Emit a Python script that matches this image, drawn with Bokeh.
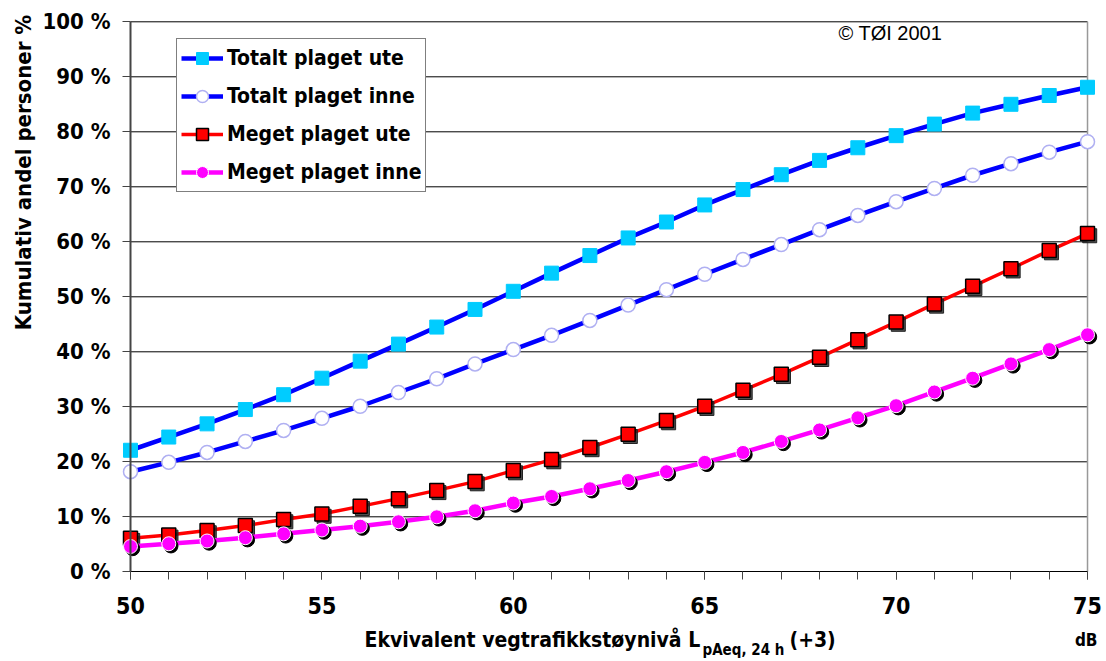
import math
from bokeh.plotting import figure
from bokeh.models import (Legend, LegendItem, FixedTicker, SingleIntervalTicker, Label, Range1d,
                          ColumnDataSource)
from bokeh.transform import dodge
from bokeh.embed import file_html
from bokeh.resources import INLINE

# ---- data ----
noise_db = list(range(50, 76))
totalt_ute = [22.1, 24.5, 26.9, 29.5, 32.2, 35.2, 38.3, 41.4, 44.5, 47.7, 51.0, 54.3, 57.5,
              60.7, 63.6, 66.7, 69.5, 72.2, 74.8, 77.1, 79.3, 81.4, 83.4, 85.0, 86.6, 88.1]
totalt_inne = [18.2, 19.9, 21.7, 23.7, 25.7, 27.9, 30.1, 32.6, 35.1, 37.8, 40.4, 43.0, 45.7,
               48.5, 51.3, 54.1, 56.8, 59.5, 62.2, 64.8, 67.3, 69.7, 72.1, 74.2, 76.3, 78.2]
meget_ute = [6.1, 6.7, 7.5, 8.4, 9.5, 10.5, 11.9, 13.3, 14.8, 16.4, 18.4, 20.4, 22.6,
             25.0, 27.5, 30.1, 33.0, 35.9, 39.0, 42.2, 45.4, 48.7, 51.9, 55.1, 58.4, 61.5]
meget_inne = [4.6, 5.1, 5.6, 6.2, 6.9, 7.6, 8.3, 9.1, 10.0, 11.1, 12.5, 13.7, 15.1,
              16.6, 18.2, 19.9, 21.7, 23.7, 25.8, 28.0, 30.2, 32.7, 35.2, 37.8, 40.4, 43.1]
series_names = ["Totalt plaget ute", "Totalt plaget inne", "Meget plaget ute", "Meget plaget inne"]
x_bounds = (50, 75)
y_bounds = (0, 100)
y_ticks = [0, 10, 20, 30, 40, 50, 60, 70, 80, 90, 100]
y_tick_labels = ["0 %", "10 %", "20 %", "30 %", "40 %", "50 %", "60 %", "70 %", "80 %", "90 %", "100 %"]
y_title = "Kumulativ andel personer %"
x_title_main = "Ekvivalent vegtrafikkstøynivå L"
x_title_sub = "pAeq, 24 h"
x_title_tail = "(+3)"
x_unit = "dB"
copyright_text = "© TØI 2001"

FONT = "DejaVu Sans Condensed, Liberation Sans, sans-serif"
W, H = 1106, 661

# the frame covers the whole canvas; axes are pinned at x=50 / y=0
p = figure(width=W, height=H, output_backend="svg", toolbar_location=None,
           x_range=Range1d(46.604, 75.496), y_range=Range1d(-16.309, 103.873),
           min_border=0, min_border_left=0, min_border_right=0,
           min_border_top=0, min_border_bottom=0)
p.background_fill_color = "white"
p.border_fill_color = "white"
p.outline_line_color = None
p.xgrid.visible = False
p.ygrid.visible = False

# x axis
p.xaxis.fixed_location = y_bounds[0]
p.xaxis.bounds = x_bounds
p.xaxis.ticker = SingleIntervalTicker(interval=5, num_minor_ticks=5)
p.xaxis.major_tick_in = 0
p.xaxis.major_tick_out = 8
p.xaxis.minor_tick_in = 0
p.xaxis.minor_tick_out = 8
p.xaxis.axis_line_color = "black"
p.xaxis.major_tick_line_color = "#444444"
p.xaxis.minor_tick_line_color = "#444444"
p.xaxis.major_label_text_font = FONT
p.xaxis.major_label_text_font_style = "bold"
p.xaxis.major_label_text_font_size = "23px"
p.xaxis.major_label_text_color = "black"
p.xaxis.major_label_standoff = 17

# y axis
p.yaxis.fixed_location = x_bounds[0]
p.yaxis.bounds = y_bounds
p.yaxis.ticker = FixedTicker(ticks=y_ticks)
p.yaxis.major_label_overrides = {t: l for t, l in zip(y_ticks, y_tick_labels)}
p.yaxis.major_tick_in = 0
p.yaxis.major_tick_out = 8
p.yaxis.minor_tick_line_color = None
p.yaxis.axis_line_color = "#444444"
p.yaxis.axis_line_width = 2
p.yaxis.major_tick_line_color = "#444444"
p.yaxis.major_label_text_font = FONT
p.yaxis.major_label_text_font_style = "bold"
p.yaxis.major_label_text_font_size = "22px"
p.yaxis.major_label_text_color = "black"
p.yaxis.major_label_standoff = 12

# horizontal grid lines limited to the plot area, grey right border
grid_src = ColumnDataSource(dict(y=y_ticks[1:]))
p.segment(x0=x_bounds[0], x1=x_bounds[1], y0="y", y1="y", source=grid_src,
          line_color="black", line_width=1, level="underlay")
p.segment(x0=[x_bounds[1]], x1=[x_bounds[1]], y0=[y_bounds[0]], y1=[y_bounds[1]],
          line_color="#999999", line_width=1.5, level="underlay")

# shadow offsets (px -> data units)
sx = 2.2 / 38.28
sy = -2.2 / 5.5

src = ColumnDataSource(dict(x=noise_db, tu=totalt_ute, ti=totalt_inne, mu=meget_ute, mi=meget_inne))

# Totalt plaget ute
l1 = p.line("x", "tu", source=src, line_color="#0000FF", line_width=4.5)
m1 = p.scatter("x", "tu", source=src, marker="square", size=14,
               fill_color="#00CCFF", line_color="#00CCFF", line_width=1)
# Totalt plaget inne
l2 = p.line("x", "ti", source=src, line_color="#0000FF", line_width=4.5)
m2 = p.scatter("x", "ti", source=src, marker="circle", size=14,
               fill_color="white", line_color="#B0B0F2", line_width=1.5)
# Meget plaget ute
l3 = p.line("x", "mu", source=src, line_color="#FF0000", line_width=3.5)
p.scatter(x=dodge("x", sx, range=p.x_range), y=dodge("mu", sy, range=p.y_range), source=src,
          marker="square", size=14, fill_color="#222222", line_color="#222222", fill_alpha=0.8)
m3 = p.scatter("x", "mu", source=src, marker="square", size=14,
               fill_color="#FF0000", line_color="black", line_width=1.5)
# Meget plaget inne
l4 = p.line("x", "mi", source=src, line_color="#FF00FF", line_width=4.5)
p.scatter(x=dodge("x", sx, range=p.x_range), y=dodge("mi", sy, range=p.y_range), source=src,
          marker="circle", size=14, fill_color="black", line_color="black")
m4 = p.scatter("x", "mi", source=src, marker="circle", size=14,
               fill_color="#FF00FF", line_color="white", line_width=1)

legend = Legend(items=[
    LegendItem(label=series_names[0], renderers=[l1, m1]),
    LegendItem(label=series_names[1], renderers=[l2, m2]),
    LegendItem(label=series_names[2], renderers=[l3, m3]),
    LegendItem(label=series_names[3], renderers=[l4, m4]),
], location=(176, 469))
legend.label_text_font = FONT
legend.label_text_font_style = "bold"
legend.label_text_font_size = "21px"
legend.label_text_color = "black"
legend.label_standoff = 4
legend.glyph_width = 42
legend.glyph_height = 30
legend.label_height = 30
legend.spacing = 8
legend.padding = 4
legend.margin = 0
legend.border_line_color = "black"
legend.border_line_width = 1
legend.background_fill_color = "white"
legend.background_fill_alpha = 1
p.add_layout(legend)

def note(x, y, text, size, bold=True, font=FONT, align="left", angle=0.0, baseline="alphabetic"):
    p.add_layout(Label(x=x, y=y, x_units="screen", y_units="screen", text=text,
                       text_font=font, text_font_style="bold" if bold else "normal",
                       text_font_size=size, text_color="black", text_align=align,
                       text_baseline=baseline, angle=angle))

# y-axis title
note(23, 489, y_title, "22px", align="center", angle=math.pi / 2, baseline="middle")
# copyright
note(838, 629, copyright_text, "20px", bold=False, font="Liberation Sans, sans-serif")
# x-axis title with subscript
note(364, 22, x_title_main, "21px")
note(702, 12, x_title_sub, "15px")
note(789, 22, x_title_tail, "21px")
note(1097, 22, x_unit, "17px", align="right")

open("out.html", "w").write(file_html(p, INLINE))
